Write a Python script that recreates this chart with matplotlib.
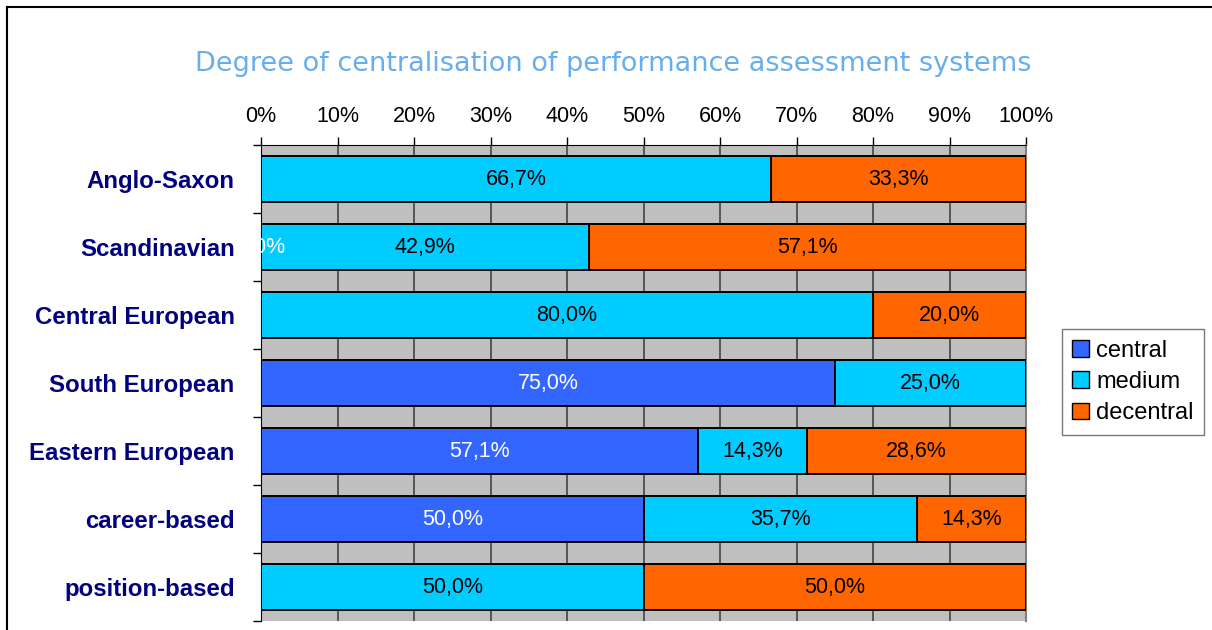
import matplotlib.pyplot as plt
import matplotlib.patches as mpatches
from matplotlib.lines import Line2D
import numpy as np

plt.rcParams['font.family'] = ['Liberation Sans', 'DejaVu Sans']

# data
regions = ['Anglo-Saxon', 'Scandinavian', 'Central European', 'South European',
           'Eastern European', 'career-based', 'position-based']
central = [np.nan, 0.0, np.nan, 75.0, 57.1, 50.0, np.nan]
medium = [66.7, 42.9, 80.0, 25.0, 14.3, 35.7, 50.0]
decentral = [33.3, 57.1, 20.0, np.nan, 28.6, 14.3, 50.0]

series = [('central', central, '#3366FF', 'white'),
          ('medium', medium, '#00CCFF', 'black'),
          ('decentral', decentral, '#FF6600', 'black')]

fig = plt.figure(figsize=(12.12, 6.3), dpi=100)
W, H = 1212, 630

# chart border
fig.add_artist(Line2D([7 / W, 7 / W], [-0.1, 1 - 7 / H], color='black', lw=1.5,
                      transform=fig.transFigure))
fig.add_artist(Line2D([7 / W, 1.01], [1 - 7 / H, 1 - 7 / H], color='black', lw=1.5,
                      transform=fig.transFigure))

ax = fig.add_axes([261 / W, 1 - 621 / H, (1026 - 261) / W, (621 - 145) / H])
ax.set_facecolor('#C0C0C0')

y = np.arange(len(regions))
left = np.zeros(len(regions))
for name, vals, col, tcol in series:
    v = np.array(vals)
    vv = np.nan_to_num(v)
    ax.barh(y, vv, left=left, height=0.68, color=col, edgecolor='black',
            linewidth=1.4, label=name, zorder=3)
    for i in range(len(regions)):
        if not np.isnan(v[i]):
            t = ax.text(left[i] + vv[i] / 2, y[i], f'{v[i]:.1f}%'.replace('.', ','),
                        ha='center', va='center', fontsize=15.5, color=tcol, zorder=4)
            t.set_clip_on(True)
    left += vv

ax.set_xlim(0, 100)
ax.set_ylim(len(regions) - 0.5, -0.5)
ax.set_xticks(np.arange(0, 101, 10))
ax.set_xticklabels([f'{p}%' for p in range(0, 101, 10)])
ax.xaxis.tick_top()
ax.tick_params(axis='x', direction='out', length=6, width=1, pad=7, labelsize=15.5)
ax.grid(axis='x', color='#444444', linewidth=1.2, zorder=1)
ax.set_axisbelow(True)

ax.set_yticks(y)
ax.set_yticklabels(regions, fontsize=17.3, fontweight='bold', color='#000080')
ax.set_yticks(np.arange(-0.5, len(regions), 1), minor=True)
ax.tick_params(axis='y', which='major', length=0, pad=19)
ax.tick_params(axis='y', which='minor', length=6, width=1, direction='out')

for s in ['top', 'left']:
    ax.spines[s].set_color('black')
ax.spines['right'].set_color('#808080')
ax.spines['right'].set_linewidth(1.5)
ax.spines['bottom'].set_visible(False)

fig.text(613 / W, 1 - 64 / H, 'Degree of centralisation of performance assessment systems',
         ha='center', va='center', fontsize=19.5, color='#66AEEE', family='DejaVu Sans')

handles = [mpatches.Patch(facecolor=c, edgecolor='black', label=n) for n, _, c, _ in series]
leg = fig.legend(handles=handles, loc='center', bbox_to_anchor=(1133 / W, 1 - 382 / H),
                 fontsize=17, frameon=True, fancybox=False, handlelength=0.7,
                 handleheight=0.7, handletextpad=0.3, labelspacing=0.4, borderpad=0.45,
                 borderaxespad=0)
leg.get_frame().set_edgecolor('#555555')
leg.get_frame().set_linewidth(1)

fig.savefig('out.png', dpi=100)
